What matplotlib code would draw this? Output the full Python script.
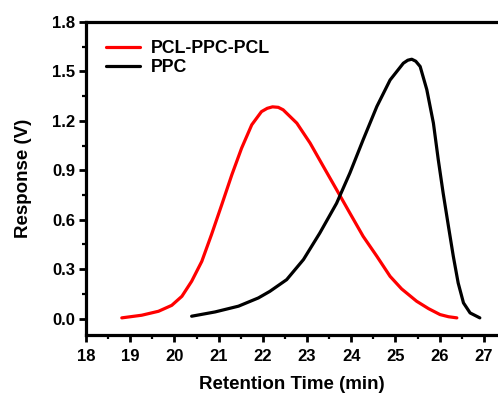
import numpy as np
import matplotlib
matplotlib.use("Agg")
import matplotlib.pyplot as plt
from matplotlib.ticker import MultipleLocator

pcl_t = [18.81, 19.26, 19.64, 19.94, 20.17, 20.39, 20.62, 20.84, 21.07, 21.30,
         21.52, 21.75, 21.97, 22.10, 22.22, 22.35, 22.46, 22.77, 23.07, 23.37,
         23.67, 23.97, 24.27, 24.58, 24.88, 25.14, 25.48, 25.75, 26.01, 26.20,
         26.39]
pcl_v = [0.004, 0.02, 0.044, 0.08, 0.135, 0.226, 0.347, 0.51, 0.69, 0.873,
         1.034, 1.176, 1.256, 1.276, 1.285, 1.282, 1.267, 1.186, 1.065, 0.923,
         0.782, 0.64, 0.499, 0.378, 0.256, 0.18, 0.105, 0.06, 0.024, 0.011,
         0.004]

ppc_t = [20.39, 20.92, 21.45, 21.90, 22.16, 22.54, 22.92, 23.29, 23.67, 23.97,
         24.27, 24.58, 24.88, 25.18, 25.28, 25.37, 25.46, 25.56, 25.71, 25.86,
         25.97, 26.08, 26.20, 26.31, 26.42, 26.54, 26.69, 26.91]
ppc_v = [0.014, 0.04, 0.075, 0.125, 0.165, 0.236, 0.358, 0.519, 0.70, 0.883,
         1.085, 1.287, 1.448, 1.55, 1.568, 1.574, 1.562, 1.53, 1.39, 1.186,
         0.964, 0.762, 0.56, 0.378, 0.216, 0.095, 0.034, 0.004]

labels = ["PCL-PPC-PCL", "PPC"]
colors = ["#ff0000", "#000000"]

plt.rcParams['font.family'] = ['Liberation Sans', 'DejaVu Sans']
plt.rcParams['font.weight'] = 'bold'

fig = plt.figure(figsize=(4.98, 3.94), dpi=100)
W, H = 498, 394
# the axes box runs off the right edge in the reference
ax = fig.add_axes([86 / W, 1 - 335 / H, 412 / W, 313 / H])

ax.plot(pcl_t, pcl_v, color=colors[0], lw=2.3, label=labels[0],
        solid_joinstyle='round', solid_capstyle='round')
ax.plot(ppc_t, ppc_v, color=colors[1], lw=2.3, label=labels[1],
        solid_joinstyle='round', solid_capstyle='round')

ax.set_xlim(18, 18 + 412 / 44.2)
ax.set_ylim(-0.1, 1.8)
ax.xaxis.set_major_locator(MultipleLocator(1))
ax.xaxis.set_minor_locator(MultipleLocator(0.5))
ax.yaxis.set_major_locator(MultipleLocator(0.3))
ax.yaxis.set_minor_locator(MultipleLocator(0.15))
ax.yaxis.set_major_formatter(plt.FormatStrFormatter('%.1f'))

ax.spines['right'].set_visible(False)
for s in ['left', 'bottom', 'top']:
    ax.spines[s].set_linewidth(2.3)
ax.tick_params(which='major', direction='out', length=5, width=2, labelsize=12, pad=3)
ax.tick_params(axis='x', which='major', pad=5)
ax.tick_params(which='minor', direction='out', length=3, width=1.6)

ax.set_xlabel('Retention Time (min)', fontsize=13.5, fontweight='bold', labelpad=9)
ax.set_ylabel('Response (V)', fontsize=13.5, fontweight='bold', labelpad=14)

ax.legend(loc='upper left', frameon=False, fontsize=12.8, handlelength=1.9,
          handletextpad=0.65, borderpad=0, borderaxespad=0, labelspacing=0.12,
          bbox_to_anchor=((106 - 86) / 412, (335 - 40) / 313))

fig.savefig('out.png', dpi=100)
